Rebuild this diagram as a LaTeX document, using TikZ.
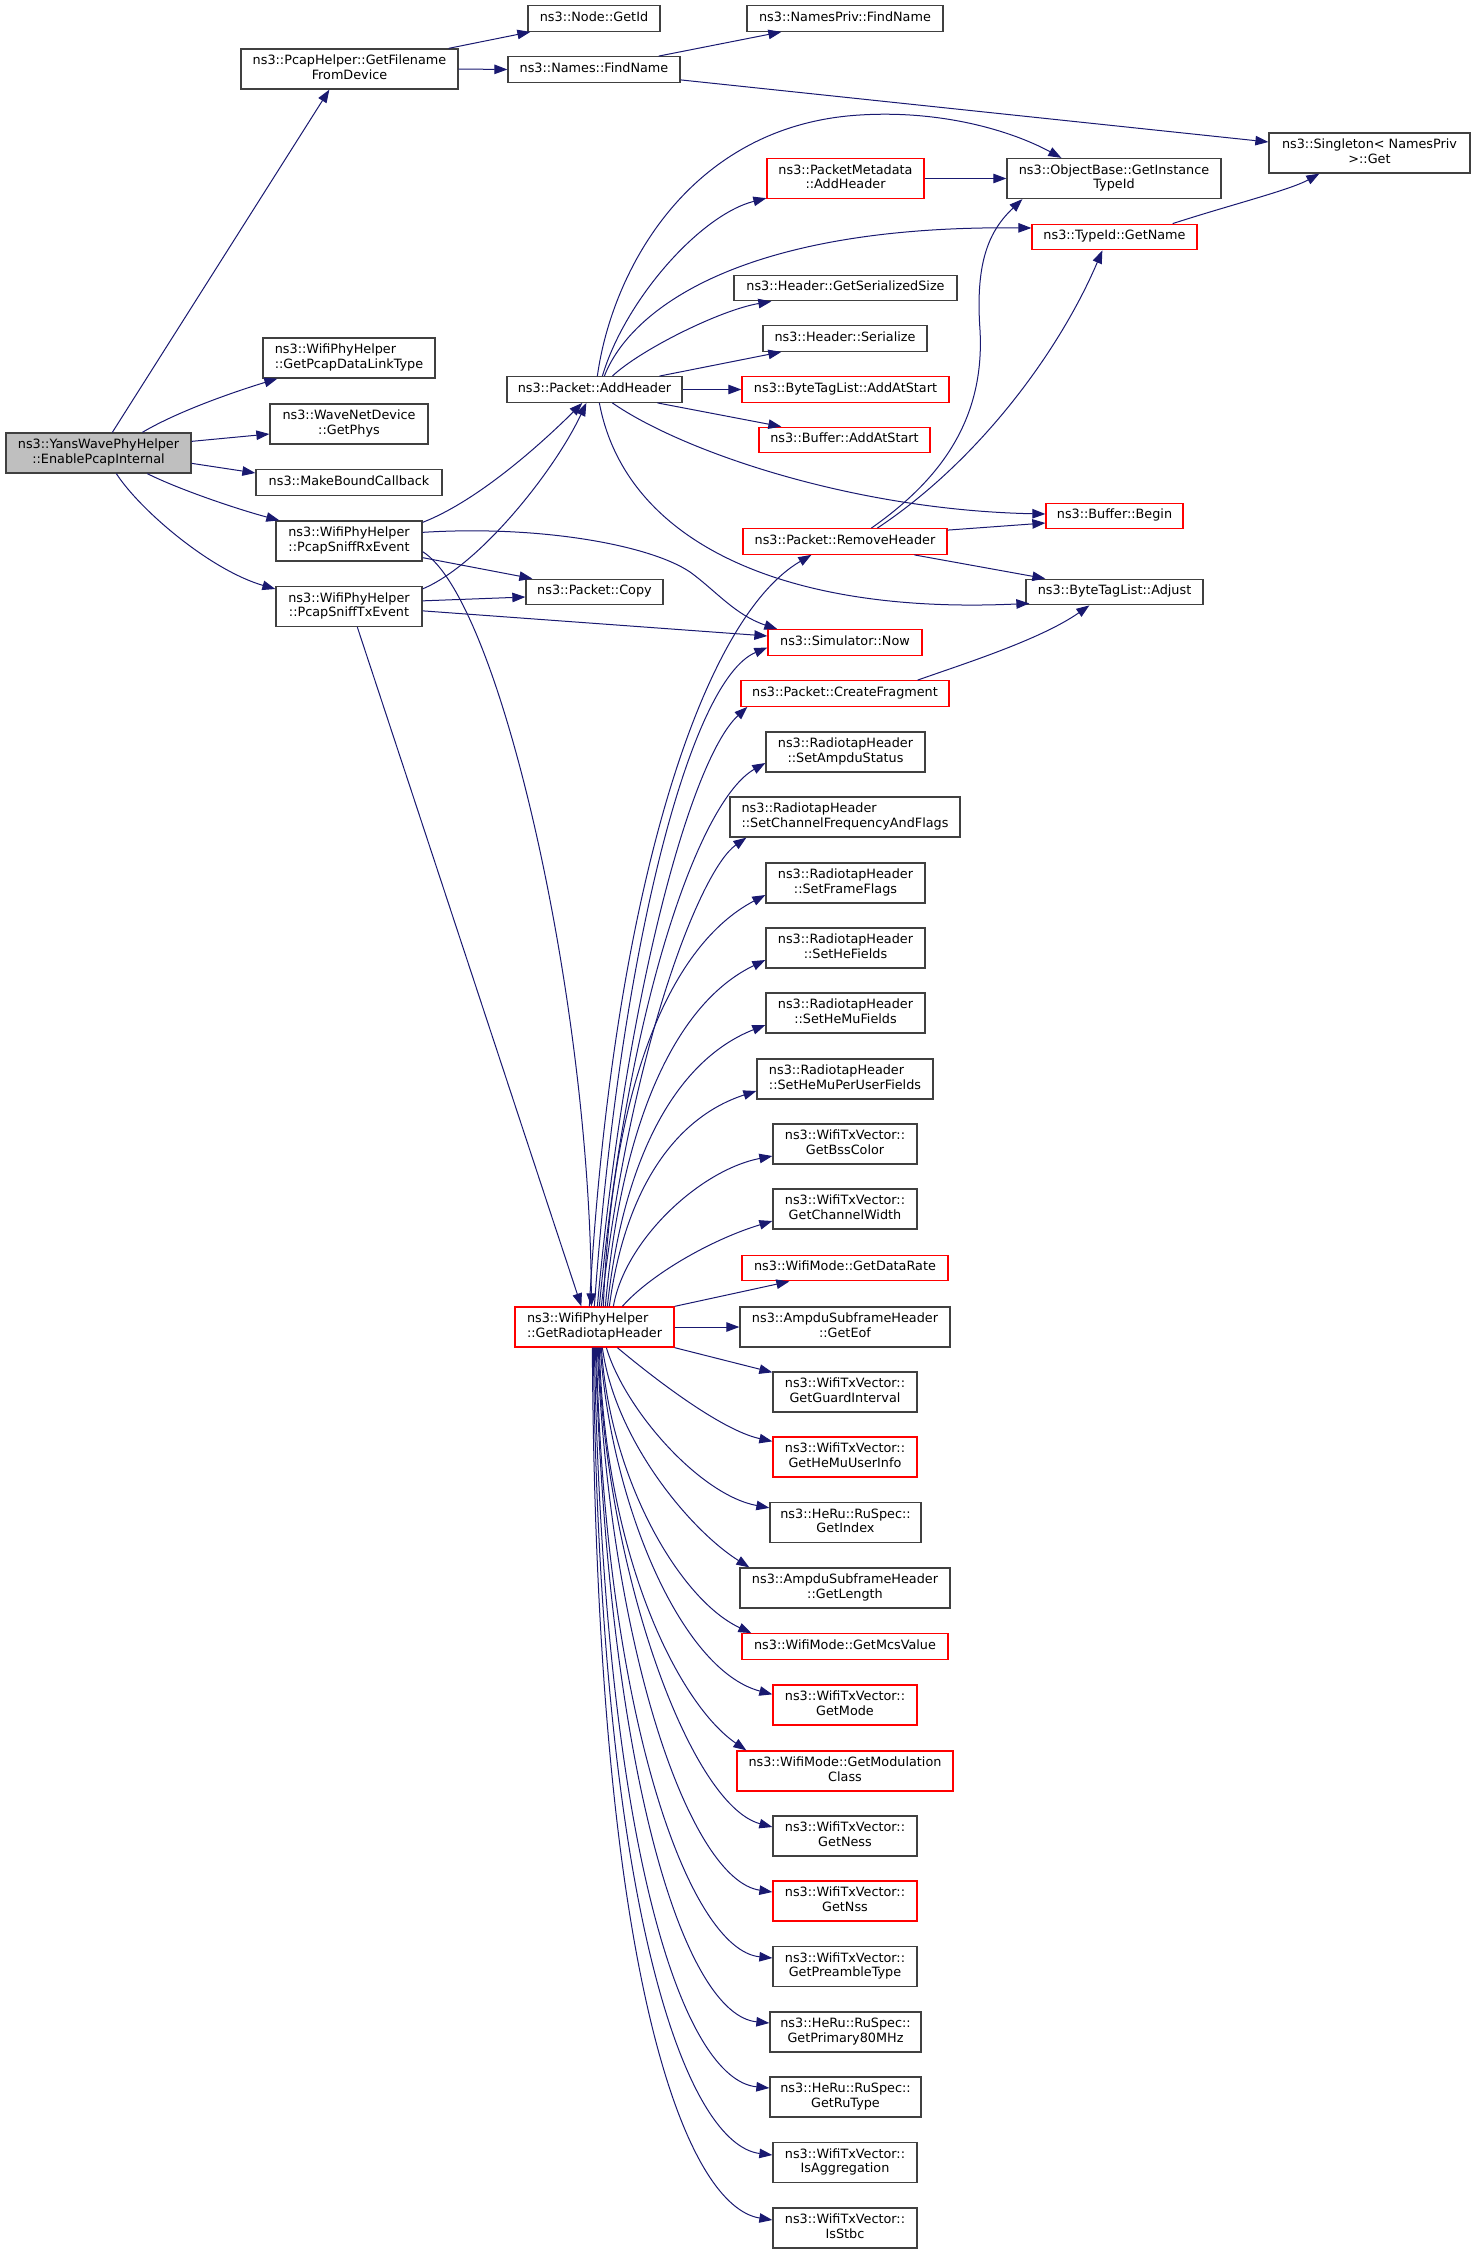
\documentclass[tikz,border=0pt]{standalone}
\usepackage{fontspec}
\setmainfont{DejaVu Sans}
\usetikzlibrary{arrows.meta,calc}
\definecolor{edgec}{HTML}{191970}
\definecolor{bordc}{HTML}{404040}
\definecolor{rootc}{HTML}{BFBFBF}
\newcommand\twolbl[2]{\setbox0=\hbox{\strut#1}\setbox2=\hbox{\strut#2}\dimen0=\wd0 \ifdim\wd2>\dimen0 \dimen0=\wd2 \fi\vbox{\hbox to\dimen0{\box0\hfil}\hbox to\dimen0{\hfil\box2\hfil}}}
\tikzset{
  fnbox/.style={draw=bordc, line width=1.3pt, fill=white, inner sep=0pt, minimum height=25.5pt, font=\fontsize{12.8}{14.4}\selectfont, text=black},
  twoline/.style={minimum height=40pt},
  redbox/.style={draw=red},
  rootbox/.style={fill=rootc},
  calledge/.style={draw=edgec, line width=1pt, -{Triangle[length=13pt,width=9.5pt]}},
}
\begin{document}
\begin{tikzpicture}[x=1pt,y=-1pt]
\useasboundingbox (0,0) rectangle (1475,2253);
% ---------- nodes ----------
\node[fnbox,twoline,rootbox,minimum width=185pt] (E) at (98.5,453) {\twolbl{ns3::YansWavePhyHelper}{::EnablePcapInternal}};
\node[fnbox,twoline,minimum width=217pt] (GFD) at (349.5,69) {\twolbl{ns3::PcapHelper::GetFilename}{FromDevice}};
\node[fnbox,minimum width=132pt] (GETID) at (594,18.5) {\strut ns3::Node::GetId};
\node[fnbox,minimum width=172pt] (NF) at (594,69.5) {\strut ns3::Names::FindName};
\node[fnbox,minimum width=196pt] (NPF) at (845,18.5) {\strut ns3::NamesPriv::FindName};
\node[fnbox,twoline,minimum width=201pt] (SG) at (1369.5,153) {\twolbl{ns3::Singleton< NamesPriv}{>::Get}};
\node[fnbox,twoline,redbox,minimum width=157pt] (PMA) at (845.5,178.5) {\twolbl{ns3::PacketMetadata}{::AddHeader}};
\node[fnbox,twoline,minimum width=214pt] (OB) at (1114,178.5) {\twolbl{ns3::ObjectBase::GetInstance}{TypeId}};
\node[fnbox,redbox,minimum width=165pt] (GN) at (1114.5,237) {\strut ns3::TypeId::GetName};
\node[fnbox,minimum width=223pt] (GSS) at (845.5,288) {\strut ns3::Header::GetSerializedSize};
\node[fnbox,minimum width=164pt] (HS) at (845,338.5) {\strut ns3::Header::Serialize};
\node[fnbox,redbox,minimum width=207pt] (BTLA) at (845.5,389.5) {\strut ns3::ByteTagList::AddAtStart};
\node[fnbox,redbox,minimum width=171pt] (BAS) at (844.5,440) {\strut ns3::Buffer::AddAtStart};
\node[fnbox,minimum width=175pt] (AH) at (594.5,389.5) {\strut ns3::Packet::AddHeader};
\node[fnbox,twoline,minimum width=172pt] (GPDLT) at (349,358) {\twolbl{ns3::WifiPhyHelper}{::GetPcapDataLinkType}};
\node[fnbox,twoline,minimum width=158pt] (GP) at (349,424) {\twolbl{ns3::WaveNetDevice}{::GetPhys}};
\node[fnbox,minimum width=186pt] (MBC) at (349,482.5) {\strut ns3::MakeBoundCallback};
\node[fnbox,twoline,minimum width=146pt] (RX) at (349,541) {\twolbl{ns3::WifiPhyHelper}{::PcapSniffRxEvent}};
\node[fnbox,twoline,minimum width=146pt] (TX) at (349,606.5) {\twolbl{ns3::WifiPhyHelper}{::PcapSniffTxEvent}};
\node[fnbox,minimum width=137pt] (COPY) at (594.5,592) {\strut ns3::Packet::Copy};
\node[fnbox,redbox,minimum width=137pt] (BB) at (1114.5,516) {\strut ns3::Buffer::Begin};
\node[fnbox,redbox,minimum width=204pt] (RH) at (845,541.5) {\strut ns3::Packet::RemoveHeader};
\node[fnbox,minimum width=177pt] (ADJ) at (1114.5,592) {\strut ns3::ByteTagList::Adjust};
\node[fnbox,redbox,minimum width=154pt] (NOW) at (845,642.5) {\strut ns3::Simulator::Now};
\node[fnbox,redbox,minimum width=208pt] (CF) at (845,693.5) {\strut ns3::Packet::CreateFragment};
\node[fnbox,twoline,minimum width=159pt] (SAS) at (845.5,752) {\twolbl{ns3::RadiotapHeader}{::SetAmpduStatus}};
\node[fnbox,twoline,minimum width=230pt] (SCF) at (845,817) {\twolbl{ns3::RadiotapHeader}{::SetChannelFrequencyAndFlags}};
\node[fnbox,twoline,minimum width=159pt] (SFF) at (845.5,883) {\twolbl{ns3::RadiotapHeader}{::SetFrameFlags}};
\node[fnbox,twoline,minimum width=159pt] (SHE) at (845.5,948) {\twolbl{ns3::RadiotapHeader}{::SetHeFields}};
\node[fnbox,twoline,minimum width=159pt] (SHM) at (845.5,1013) {\twolbl{ns3::RadiotapHeader}{::SetHeMuFields}};
\node[fnbox,twoline,minimum width=176pt] (SHMP) at (845,1079) {\twolbl{ns3::RadiotapHeader}{::SetHeMuPerUserFields}};
\node[fnbox,twoline,minimum width=144pt] (BSS) at (845,1144) {\twolbl{ns3::WifiTxVector::}{GetBssColor}};
\node[fnbox,twoline,minimum width=144pt] (CW) at (845,1209) {\twolbl{ns3::WifiTxVector::}{GetChannelWidth}};
\node[fnbox,redbox,minimum width=206pt] (DR) at (845,1268) {\strut ns3::WifiMode::GetDataRate};
\node[fnbox,twoline,redbox,minimum width=159pt] (GRH) at (594.5,1327) {\twolbl{ns3::WifiPhyHelper}{::GetRadiotapHeader}};
\node[fnbox,twoline,minimum width=210pt] (EOF) at (845,1327) {\twolbl{ns3::AmpduSubframeHeader}{::GetEof}};
\node[fnbox,twoline,minimum width=144pt] (GI) at (845,1392) {\twolbl{ns3::WifiTxVector::}{GetGuardInterval}};
\node[fnbox,twoline,redbox,minimum width=144pt] (HMU) at (845,1457) {\twolbl{ns3::WifiTxVector::}{GetHeMuUserInfo}};
\node[fnbox,twoline,minimum width=151pt] (IDX) at (845.5,1522.5) {\twolbl{ns3::HeRu::RuSpec::}{GetIndex}};
\node[fnbox,twoline,minimum width=210pt] (LEN) at (845,1588) {\twolbl{ns3::AmpduSubframeHeader}{::GetLength}};
\node[fnbox,redbox,minimum width=206pt] (MCS) at (845,1646.5) {\strut ns3::WifiMode::GetMcsValue};
\node[fnbox,twoline,redbox,minimum width=144pt] (MODE) at (845,1705) {\twolbl{ns3::WifiTxVector::}{GetMode}};
\node[fnbox,twoline,redbox,minimum width=216pt] (MODC) at (845,1771) {\twolbl{ns3::WifiMode::GetModulation}{Class}};
\node[fnbox,twoline,minimum width=144pt] (NESS) at (845,1836) {\twolbl{ns3::WifiTxVector::}{GetNess}};
\node[fnbox,twoline,redbox,minimum width=144pt] (NSS) at (845,1901) {\twolbl{ns3::WifiTxVector::}{GetNss}};
\node[fnbox,twoline,minimum width=144pt] (PRE) at (845,1966.5) {\twolbl{ns3::WifiTxVector::}{GetPreambleType}};
\node[fnbox,twoline,minimum width=151pt] (P80) at (845.5,2032) {\twolbl{ns3::HeRu::RuSpec::}{GetPrimary80MHz}};
\node[fnbox,twoline,minimum width=151pt] (RUT) at (845.5,2097) {\twolbl{ns3::HeRu::RuSpec::}{GetRuType}};
\node[fnbox,twoline,minimum width=144pt] (AGG) at (845,2162.5) {\twolbl{ns3::WifiTxVector::}{IsAggregation}};
\node[fnbox,twoline,minimum width=144pt] (STBC) at (845,2228) {\twolbl{ns3::WifiTxVector::}{IsStbc}};
% ---------- via points ----------
\coordinate (viaOB) at (860,115);
\coordinate (viaNOW) at (690,572);
\coordinate (viaRH) at (980,330);
% ---------- edges from root ----------
\draw[calledge] ($(E.north west)+(107,0)$) -- ($(GFD.south west)+(89,0)$);
\draw[calledge] ($(E.north west)+(137,0)$) .. controls (180,410) and (240,390) .. ($(GPDLT.south west)+(15,0)$);
\draw[calledge] ($(E.north east)+(0,9)$) -- ($(GP.west)+(0,10)$);
\draw[calledge] ($(E.north east)+(0,31)$) -- ($(MBC.west)+(0,-9.5)$);
\draw[calledge] ($(E.south west)+(142,0)$) .. controls (180,490) and (240,510) .. ($(RX.north west)+(4,0)$);
\draw[calledge] ($(E.south west)+(111,0)$) .. controls (140,510) and (210,570) .. ($(TX.west)+(0,-17.5)$);
% ---------- top ----------
\draw[calledge] ($(GFD.north east)+(-10,0)$) -- ($(GETID.south west)+(3,0)$);
\draw[calledge] (GFD.east) -- (NF.west);
\draw[calledge] ($(NF.north east)+(-22,0)$) -- ($(NPF.south west)+(35,0)$);
\draw[calledge] ($(NF.south east)+(0,-3)$) -- ($(SG.west)+(0,-11)$);
% ---------- AddHeader ----------
\draw[calledge] ($(AH.north west)+(91,0)$) .. controls (612,270) and (690,125) .. (viaOB) .. controls (940,110) and (1010,130) .. ($(OB.north west)+(55,0)$);
\draw[calledge] ($(AH.north west)+(96,0)$) .. controls (625,300) and (700,215) .. ($(PMA.south west)+(0,-1)$);
\draw[calledge] ($(AH.north west)+(98,0)$) .. controls (630,310) and (740,225) .. ($(GN.west)+(0,-9)$);
\draw[calledge] ($(AH.north west)+(106,0)$) .. controls (640,350) and (720,310) .. ($(GSS.south west)+(38,0)$);
\draw[calledge] ($(AH.north west)+(153,0)$) -- ($(HS.south west)+(19,0)$);
\draw[calledge] (AH.east) -- (BTLA.west);
\draw[calledge] ($(AH.south west)+(151,0)$) -- ($(BAS.north west)+(23,0)$);
\draw[calledge] ($(AH.south west)+(106,0)$) .. controls (680,450) and (850,510) .. ($(BB.west)+(0,-2)$);
\draw[calledge] ($(AH.south west)+(93,0)$) .. controls (625,540) and (780,615) .. ($(ADJ.south west)+(4,-2)$);
% ---------- Rx / Tx ----------
\draw[calledge] ($(RX.north east)+(0,2)$) .. controls (480,500) and (545,440) .. ($(AH.south west)+(76,0)$);
\draw[calledge] ($(RX.south east)+(0,-4)$) -- ($(COPY.north west)+(7,0)$);
\draw[calledge] ($(RX.north east)+(0,12)$) .. controls (540,525) and (650,545) .. (viaNOW) .. controls (715,590) and (735,615) .. ($(NOW.north west)+(10,0)$);
\draw[calledge] ($(RX.south east)+(0,-10)$) .. controls (500,600) and (590,1000) .. ($(GRH.north west)+(77,0)$);
\draw[calledge] ($(TX.north east)+(0,3)$) .. controls (480,565) and (555,470) .. ($(AH.south west)+(80,0)$);
\draw[calledge] ($(TX.north east)+(0,15)$) -- ($(COPY.west)+(0,5)$);
\draw[calledge] ($(TX.north east)+(0,25)$) -- ($(NOW.west)+(0,-6.5)$);
\draw[calledge] ($(TX.south west)+(82,0)$) -- ($(GRH.north west)+(67,0)$);
% ---------- misc ----------
\draw[calledge] (PMA.east) -- (OB.west);
\draw[calledge] ($(GN.north east)+(-25,0)$) .. controls (1230,205) and (1290,190) .. ($(SG.south west)+(51,0)$);
\draw[calledge] ($(RH.north west)+(129,0)$) .. controls (940,480) and (985,420) .. (viaRH) .. controls (975,260) and (990,230) .. ($(OB.south west)+(16,0)$);
\draw[calledge] ($(RH.north west)+(135,0)$) .. controls (980,460) and (1060,350) .. ($(GN.south west)+(71,0)$);
\draw[calledge] ($(RH.north east)+(0,2)$) -- ($(BB.west)+(0,7)$);
\draw[calledge] ($(RH.south west)+(172,0)$) -- ($(ADJ.north west)+(20,0)$);
\draw[calledge] ($(CF.north east)+(-32,0)$) .. controls (960,665) and (1040,640) .. ($(ADJ.south west)+(64,0)$);
% ---------- GetRadiotapHeader upward ----------
\draw[calledge] ($(GRH.north west)+(75,0)$) .. controls (612,900) and (700,620) .. ($(RH.south west)+(69,0)$);
\draw[calledge] ($(GRH.north west)+(80,0)$) .. controls (620,950) and (690,680) .. ($(NOW.west)+(0,5)$);
\draw[calledge] ($(GRH.north west)+(83,0)$) .. controls (625,1000) and (690,760) .. ($(CF.south west)+(7,0)$);
\draw[calledge] ($(GRH.north west)+(85,0)$) .. controls (628,1000) and (700,800) .. ($(SAS.west)+(0,11)$);
\draw[calledge] ($(GRH.north west)+(87,0)$) .. controls (630,1050) and (700,870) .. ($(SCF.south west)+(17,0)$);
\draw[calledge] ($(GRH.north west)+(89,0)$) .. controls (612,1080) and (672,944) .. ($(SFF.west)+(0,12)$);
\draw[calledge] ($(GRH.north west)+(91,0)$) .. controls (622,1116) and (678,1002) .. ($(SHE.west)+(0,12)$);
\draw[calledge] ($(GRH.north west)+(93,0)$) .. controls (624,1152) and (679,1059) .. ($(SHM.west)+(0,12)$);
\draw[calledge] ($(GRH.north west)+(95,0)$) .. controls (625,1188) and (676,1117) .. ($(SHMP.west)+(0,12)$);
\draw[calledge] ($(GRH.north west)+(99,0)$) .. controls (625,1240) and (700,1170) .. ($(BSS.west)+(0,12)$);
\draw[calledge] ($(GRH.north west)+(108,0)$) .. controls (650,1275) and (710,1240) .. ($(CW.west)+(0,12)$);
\draw[calledge] (GRH.north east) -- ($(DR.south west)+(48,0)$);
\draw[calledge] (GRH.east) -- (EOF.west);
\draw[calledge] (GRH.south east) -- ($(GI.north west)+(0,1)$);
% ---------- GetRadiotapHeader downward ----------
\draw[calledge] ($(GRH.south west)+(103,0)$) .. controls (650,1375) and (720,1430) .. ($(HMU.north west)+(0,5)$);
\draw[calledge] ($(GRH.south west)+(92,0)$) .. controls (625,1410) and (700,1495) .. ($(IDX.north west)+(0,6)$);
\draw[calledge] ($(GRH.south west)+(88,0)$) .. controls (615,1440) and (690,1530) .. ($(LEN.north west)+(10,0)$);
\draw[calledge] ($(GRH.south west)+(87,0)$) .. controls (610,1480) and (680,1600) .. ($(MCS.north west)+(10,0)$);
\draw[calledge] ($(GRH.south west)+(86,0)$) .. controls (610,1500) and (680,1670) .. ($(MODE.north west)+(0,10)$);
\draw[calledge] ($(GRH.south west)+(85,0)$) .. controls (605,1560) and (680,1705) .. ($(MODC.north west)+(10,0)$);
\draw[calledge] ($(GRH.south west)+(84,0)$) .. controls (605,1570) and (690,1805) .. ($(NESS.west)+(0,-9)$);
\draw[calledge] ($(GRH.south west)+(83,0)$) .. controls (610,1650) and (690,1880) .. ($(NSS.west)+(0,-9)$);
\draw[calledge] ($(GRH.south west)+(82,0)$) .. controls (605,1720) and (690,1950) .. ($(PRE.west)+(0,-8.5)$);
\draw[calledge] ($(GRH.south west)+(81,0)$) .. controls (608,1780) and (685,2015) .. ($(P80.west)+(0,-9)$);
\draw[calledge] ($(GRH.south west)+(80,0)$) .. controls (604,1860) and (685,2080) .. ($(RUT.west)+(0,-9)$);
\draw[calledge] ($(GRH.south west)+(79,0)$) .. controls (600,1930) and (690,2145) .. ($(AGG.west)+(0,-7.5)$);
\draw[calledge] ($(GRH.south west)+(78,0)$) .. controls (596,2000) and (690,2207) .. ($(STBC.west)+(0,-8)$);
\end{tikzpicture}
\end{document}
